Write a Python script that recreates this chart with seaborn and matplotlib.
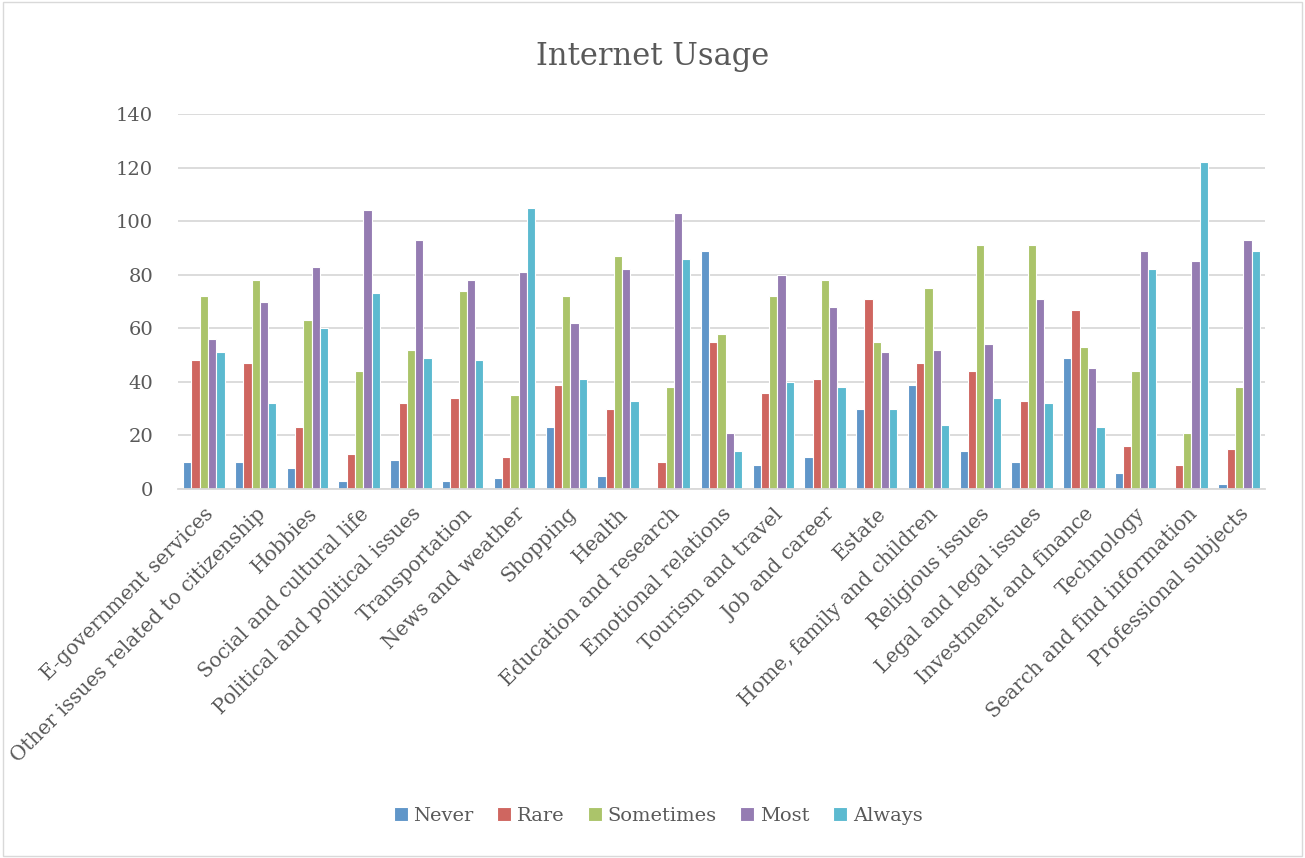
import matplotlib
matplotlib.use("Agg")
import matplotlib.pyplot as plt
import seaborn as sns
import pandas as pd

categories = [
    "E-government services",
    "Other issues related to citizenship",
    "Hobbies",
    "Social and cultural life",
    "Political and political issues",
    "Transportation",
    "News and weather",
    "Shopping",
    "Health",
    "Education and research",
    "Emotional relations",
    "Tourism and travel",
    "Job and career",
    "Estate",
    "Home, family and children",
    "Religious issues",
    "Legal and legal issues",
    "Investment and finance",
    "Technology",
    "Search and find information",
    "Professional subjects",
]

never = [10, 10, 8, 3, 11, 3, 4, 23, 5, 0, 89, 9, 12, 30, 39, 14, 10, 49, 6, 0, 2]
rare = [48, 47, 23, 13, 32, 34, 12, 39, 30, 10, 55, 36, 41, 71, 47, 44, 33, 67, 16, 9, 15]
sometimes = [72, 78, 63, 44, 52, 74, 35, 72, 87, 38, 58, 72, 78, 55, 75, 91, 91, 53, 44, 21, 38]
most = [56, 70, 83, 104, 93, 78, 81, 62, 82, 103, 21, 80, 68, 51, 52, 54, 71, 45, 89, 85, 93]
always = [51, 32, 60, 73, 49, 48, 105, 41, 33, 86, 14, 40, 38, 30, 24, 34, 32, 23, 82, 122, 89]

series_names = ["Never", "Rare", "Sometimes", "Most", "Always"]
series_colors = ["#6096C9", "#CF6660", "#ABC46A", "#957CB2", "#5CBAD0"]

frames = []
for name, vals in zip(series_names, [never, rare, sometimes, most, always]):
    frames.append(pd.DataFrame({"Topic": categories, "Frequency": name, "Count": vals}))
df = pd.concat(frames, ignore_index=True)

sns.set_theme(style="white")
plt.rcParams["font.family"] = ["DejaVu Serif"]
text_color = "#595959"

fig = plt.figure(figsize=(13.05, 8.58), dpi=100)
ax = fig.add_axes([178 / 1305, 1 - 489 / 858, (1265 - 178) / 1305, (489 - 114) / 858])

sns.barplot(
    data=df, x="Topic", y="Count", hue="Frequency",
    hue_order=series_names, palette=series_colors, saturation=1,
    width=0.8, edgecolor="white", linewidth=0.8, ax=ax,
)

ax.set_ylim(0, 140)
ax.set_yticks(range(0, 141, 20))
ax.set_xlim(-0.5, len(categories) - 0.5)
ax.yaxis.grid(True, color="#D9D9D9", linewidth=1.3)
ax.set_axisbelow(True)
for side in ["left", "right", "top"]:
    ax.spines[side].set_visible(False)
ax.spines["bottom"].set_color("#D9D9D9")
ax.spines["bottom"].set_linewidth(1.3)
ax.tick_params(axis="both", length=0, colors=text_color)
ax.tick_params(axis="y", pad=18, labelsize=14)
ax.tick_params(axis="x", pad=11, labelsize=14.5)
ax.set_xticks(range(len(categories)))
ax.set_xticklabels(categories, rotation=45, ha="right", rotation_mode="anchor")
ax.set_xlabel("")
ax.set_ylabel("")

ax.legend_.remove()
handles, labels = ax.get_legend_handles_labels()
fig.legend(
    handles, labels, loc="center", bbox_to_anchor=(658 / 1305, 1 - 816 / 858),
    ncol=5, frameon=False, fontsize=14, labelcolor=text_color,
    handlelength=0.72, handleheight=0.72, handletextpad=0.3, columnspacing=1.2,
)

fig.text(653 / 1305, 1 - 57 / 858, "Internet Usage", ha="center", va="center",
         fontsize=22, color=text_color)

# thin frame round the whole chart area
fig.patches.append(plt.Rectangle((0.002, 0.002), 0.996, 0.996, transform=fig.transFigure,
                                 fill=False, edgecolor="#D9D9D9", linewidth=1))

fig.savefig("out.png", dpi=100, facecolor="white")
